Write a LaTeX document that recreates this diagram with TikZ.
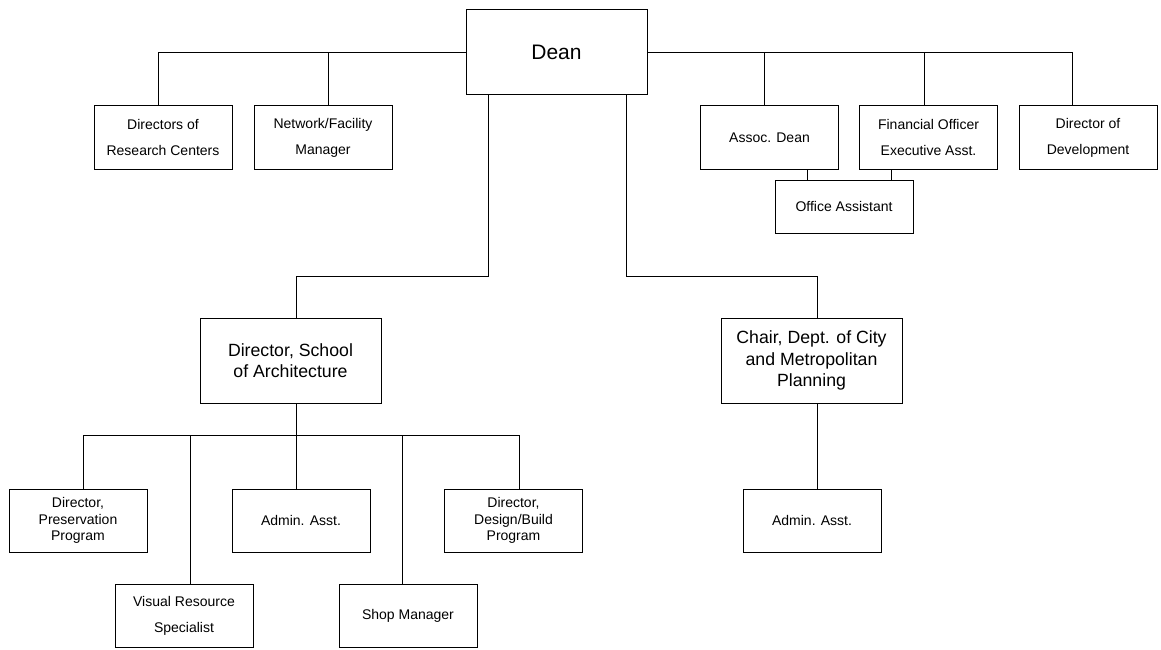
\documentclass[tikz,border=0pt]{standalone}
\usepackage{fontspec}
\setmainfont{Liberation Sans}
\begin{document}
\begin{tikzpicture}[
  x=1pt, y=-1pt,
  line width=1pt,
  box/.style={draw, rectangle, inner sep=0pt, align=center, minimum width=138pt, minimum height=63pt, font=\fontsize{14}{26}\selectfont},
  bigbox/.style={box, minimum width=181pt, minimum height=85pt, font=\fontsize{17.7}{21.5}\selectfont},
  tight/.style={font=\fontsize{14}{16.7}\selectfont}
]
  \useasboundingbox (0,0) rectangle (1161,650);

  \node[bigbox, font=\fontsize{21}{25}\selectfont] (dean) at (556.5,52.5) {Dean};
  \node[box] (drc) at (163,137.5) {Directors of\\Research Centers};
  \node[box] (nfm) at (323,137.5) {Network/Facility\\Manager};
  \node[box] (ad) at (769.5,137.5) {Assoc. Dean};
  \node[box] (fo) at (928.5,137.5) {Financial Officer\\Executive Asst.};
  \node[box] (dd) at (1088,137.5) {Director of\\Development};
  \node[box, minimum height=53pt] (oa) at (844,206.5) {Office Assistant};

  \node[bigbox] (school) at (290.5,360.5) {Director, School\\of Architecture};
  \node[bigbox] (chair) at (811.5,360.5) {Chair, Dept. of City\\and Metropolitan\\Planning};

  \node[box, tight] (dpp) at (78,520.5) {Director,\\Preservation\\Program};
  \node[box] (aa1) at (301,520.5) {Admin. Asst.};
  \node[box, tight] (ddb) at (513.5,520.5) {Director,\\Design/Build\\Program};
  \node[box] (vrs) at (184,616) {Visual Resource\\Specialist};
  \node[box] (sm) at (408,616) {Shop Manager};
  \node[box] (aa2) at (812,520.5) {Admin. Asst.};

  \draw ([xshift=-5pt]drc.north) |- (dean.west);
  \draw ([xshift=5pt]nfm.north) |- (dean.west);
  \foreach \n/\dx in {ad/-5.5, fo/-4.5, dd/-16}
    \draw ([xshift=\dx pt]\n.north) |- (dean.east);
  \draw ([xshift=37.5pt]ad.south) -- ([xshift=-37pt]oa.north);
  \draw ([xshift=-37.5pt]fo.south) -- ([xshift=47pt]oa.north);

  \draw ([xshift=-68.5pt]dean.south) -- ++(0,181) -| ([xshift=5.5pt]school.north);
  \draw ([xshift=69.5pt]dean.south) -- ++(0,181) -| ([xshift=5.5pt]chair.north);

  \coordinate (sbus) at ([xshift=5.5pt,yshift=-32pt]school.south);
  \draw ([xshift=5.5pt]school.south) -- ([xshift=-5pt]aa1.north);
  \foreach \n/\dx in {dpp/5, vrs/6, sm/-6, ddb/5.5}
    \draw ([xshift=\dx pt]\n.north) |- (sbus);
  \draw ([xshift=5.5pt]chair.south) -- ([xshift=5pt]aa2.north);
\end{tikzpicture}
\end{document}
